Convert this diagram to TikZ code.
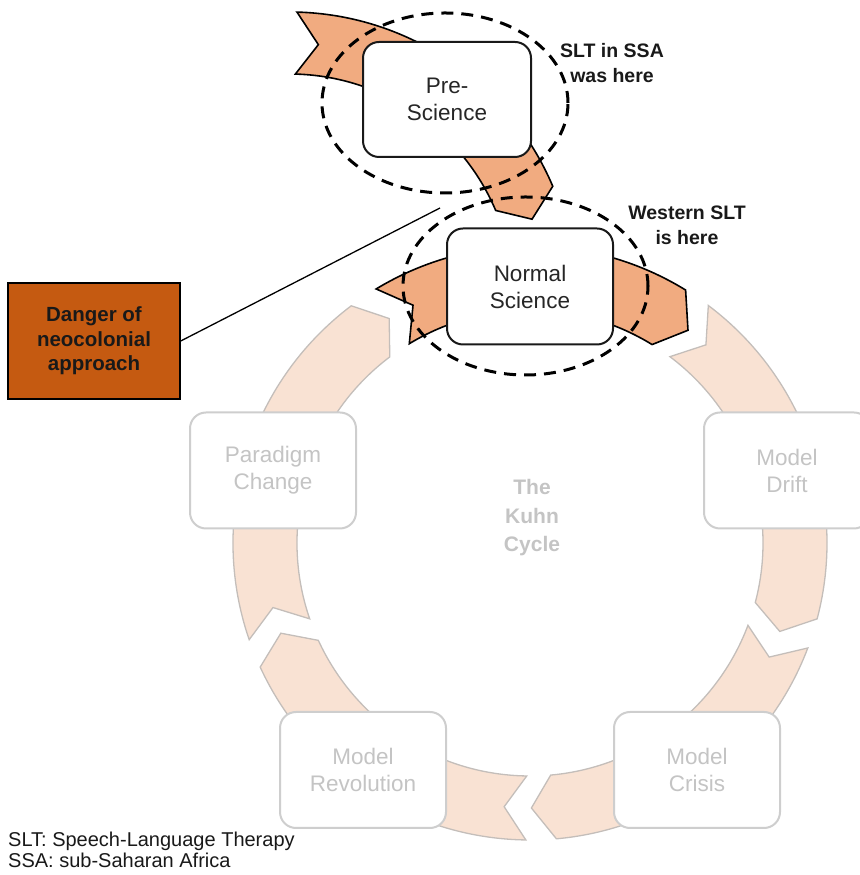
\documentclass[tikz,border=0pt]{standalone}
\usepackage{fontspec}
\setmainfont{Liberation Sans}

\definecolor{hiorange}{RGB}{241,171,128}
\definecolor{lightfill}{RGB}{249,226,211}
\definecolor{lightedge}{RGB}{196,190,186}
\definecolor{boxgray}{RGB}{206,206,206}
\definecolor{textgray}{RGB}{196,196,196}
\definecolor{danger}{RGB}{197,90,17}

% curved block arrow: style, centre, inner r, outer r, tail angle, head angle, tip depth
\newcommand{\arcpiece}[7]{%
  \begin{scope}[shift={#2}]
    \pgfmathsetmacro\rmid{(#3+#4)/2}
    \pgfmathsetmacro\tipa{#6-#7}
    \pgfmathsetmacro\notcha{#5-#7}
    \path[#1] (#5:#4) arc[start angle=#5, end angle=#6, radius=#4]
      -- (\tipa:\rmid) -- (#6:#3)
      arc[start angle=#6, end angle=#5, radius=#3]
      -- (\notcha:\rmid) -- cycle;
  \end{scope}}

\begin{document}
\begin{tikzpicture}[x=1pt,y=1pt,
  lightarrow/.style={fill=lightfill, draw=lightedge, line width=1.3pt, line join=miter},
  hiarrow/.style={fill=hiorange, draw=black, line width=1.6pt, line join=miter},
  stagebox/.style={draw=boxgray, line width=2pt, fill=white, rounded corners=16pt,
    minimum width=166pt, minimum height=116pt, inner sep=0pt, align=center,
    text=textgray, font=\fontsize{22.5}{27}\selectfont},
  activebox/.style={stagebox, draw=black!90, text=black!85},
  dashring/.style={draw=black, line width=3pt, dash pattern=on 12pt off 8pt},
  note/.style={align=center, font=\bfseries\fontsize{19.5}{25}\selectfont, text=black!90}]
\useasboundingbox (0,0) rectangle (859,875);

% the Kuhn cycle ring (pale pieces)
\arcpiece{lightarrow}{(530,332)}{233}{297}{53.1}{-14.8}{4.7}
\arcpiece{lightarrow}{(530,332)}{233}{297}{-20.7}{-84.9}{4.8}
\arcpiece{lightarrow}{(530,332)}{233}{297}{-90.8}{-155.3}{4.8}
\arcpiece{lightarrow}{(530,332)}{233}{297}{-161}{-233}{4.9}

\node[stagebox] (drift) at (787,404.5) {Model\\Drift};
\node[stagebox] (crisis) at (697,105) {Model\\Crisis};
\node[stagebox] (revolution) at (363,105) {Model\\Revolution};
\node[stagebox] (paradigm) at (273,404.5) {Paradigm\\Change};
\node[align=center, text=textgray, font=\bfseries\fontsize{21}{28.5}\selectfont] (kuhn) at (532,357) {The\\Kuhn\\Cycle};

% highlighted normal science stage
\arcpiece{hiarrow}{(530,332)}{233}{297}{121.2}{58.4}{5}
\node[activebox] (normal) at (530,588.5) {Normal\\Science};

% pre-science stage
\arcpiece{hiarrow}{(289.5,577)}{224}{286}{88.5}{23}{5}
\node[activebox, minimum width=168pt, minimum height=115pt] (pre) at (447,775.5) {Pre-\\Science};

% dashed markers
\draw[dashring] (445,772) ellipse [x radius=123, y radius=90];
\draw[dashring] (525.5,589) ellipse [x radius=122.5, y radius=89];

% neocolonial warning
\node[draw=black, line width=1.5pt, fill=danger, minimum width=172pt, minimum height=116pt,
  inner sep=0pt, align=center, text=black!90, font=\bfseries\fontsize{20.5}{24.5}\selectfont]
  (danger) at (94,534) {Danger of\\neocolonial\\approach};
\coordinate (gapend) at (440,667);
\draw[line width=1.3pt] (danger.east) -- (gapend);

\node[note] (ssalabel) at (612,812) {SLT in SSA\\was here};
\node[note] (westlabel) at (687,650) {Western SLT\\is here};

% abbreviations
\node[anchor=base west, inner sep=0pt, font=\fontsize{20}{22}\selectfont, text=black!90] (legA) at (8,28) {SLT: Speech-Language Therapy};
\node[anchor=base west, inner sep=0pt, font=\fontsize{20}{22}\selectfont, text=black!90] (legB) at (8,7) {SSA: sub-Saharan Africa};
\end{tikzpicture}
\end{document}
